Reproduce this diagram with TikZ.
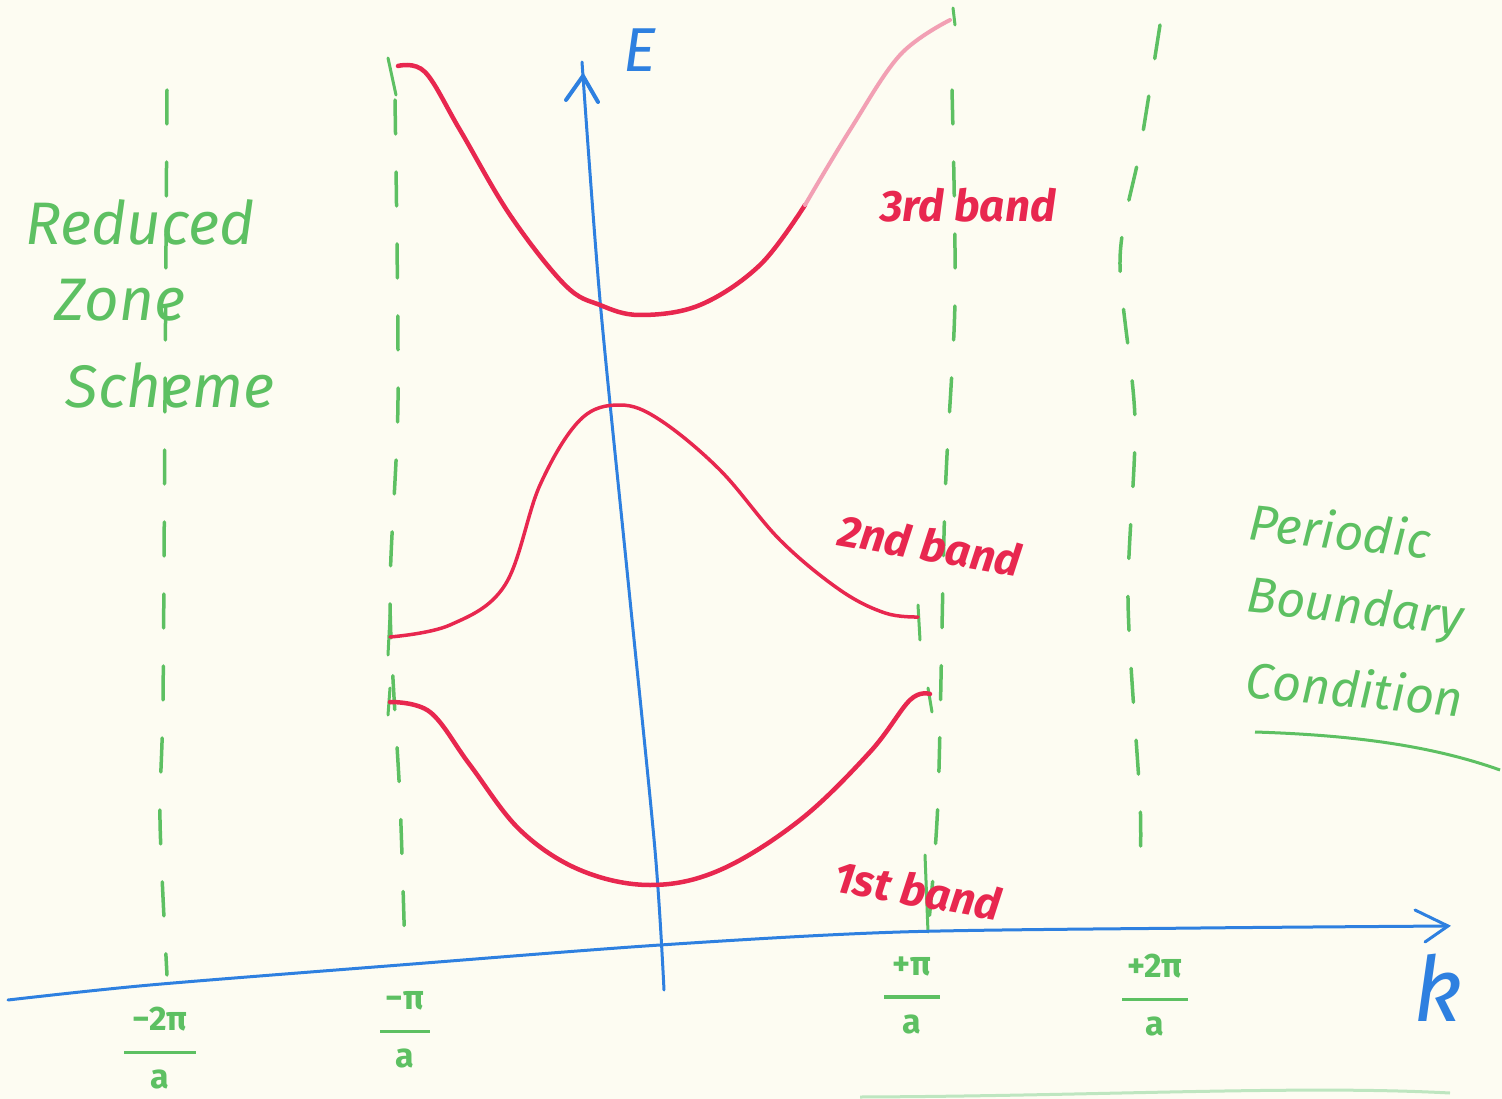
\documentclass[tikz,border=0pt]{standalone}
\usepackage{fontspec}
\setsansfont{Fira Sans}
\usetikzlibrary{arrows.meta}
\definecolor{paper}{HTML}{FDFCF2}
\definecolor{gr}{HTML}{5DC062}
\definecolor{rd}{HTML}{E8274F}
\definecolor{pk}{HTML}{F2A0B4}
\definecolor{bl}{HTML}{2E80E0}
\tikzset{
  zoneline/.style={gr, line width=3.5pt, line cap=round, dash pattern=on 34pt off 38pt},
  bandcurve/.style={rd, line width=4.5pt, line cap=round},
  axisline/.style={bl, line width=3pt, line cap=round},
  tickmark/.style={gr, line width=3pt, line cap=round},
  greentext/.style={gr, font=\sffamily\fontsize{60}{60}\selectfont\itshape, inner sep=0pt},
  pbctext/.style={gr, font=\sffamily\fontsize{50}{50}\selectfont\itshape, inner sep=0pt},
  redtext/.style={rd, font=\sffamily\fontsize{44}{44}\selectfont\itshape\bfseries, inner sep=0pt},
  fractext/.style={gr, font=\sffamily\fontsize{34}{29}\selectfont\bfseries, inner sep=0pt, align=center},
}
\newcommand{\fracbar}[1]{\rule[0.3ex]{#1}{3.5pt}}
\begin{document}
\begin{tikzpicture}[x=1pt,y=-1pt]
\useasboundingbox (0,0) rectangle (1502,1099);
\fill[paper] (0,0) rectangle (1502,1099);

% green zone boundaries (dashed)
\draw[zoneline] plot[smooth] coordinates {(167,90) (165,400) (163,700) (160,820) (167,975)};
\draw[zoneline] plot[smooth] coordinates {(395,100) (398,400) (390,600) (400,800) (405,955)};
\draw[zoneline] plot[smooth] coordinates {(952,90) (955,300) (945,500) (938,800) (928,930)};
\draw[zoneline] plot[smooth] coordinates {(1160,25) (1140,150) (1120,260) (1135,420) (1128,600) (1140,800) (1140,870)};

% end ticks
\draw[tickmark] (388,58) -- (396,95);
\draw[tickmark] (390,615) -- (388,655);
\draw[tickmark] (390,688) -- (388,715);
\draw[tickmark] (918,605) -- (920,640);
\draw[tickmark] (928,688) -- (932,712);
\draw[tickmark] (953,8) -- (955,25);
\draw[tickmark] (925,855) -- (928,932);

% E axis
\coordinate (Ebot) at (664,990);
\coordinate (Etop) at (582,62);
\draw[axisline] plot[smooth] coordinates {(Ebot) (655,850) (628,580) (600,300) (Etop)};
\draw[axisline, line width=4pt] (566,100) -- (583,76) -- (598,102);
\node[bl, font=\sffamily\fontsize{62}{62}\selectfont\itshape, inner sep=0pt] (Elab) at (640,50) {E};

% k axis
\coordinate (kleft) at (8,1000);
\coordinate (kright) at (1448,926);
\draw[axisline] plot[smooth] coordinates {(kleft) (150,985) (400,965) (660,945) (900,932) (1200,928) (kright)};
\draw[axisline] (1415,910) -- (kright) -- (1425,942);
\node[bl, font=\sffamily\fontsize{90}{90}\selectfont\itshape, inner sep=0pt] (klab) at (1438,988) {k};

% bands
\draw[bandcurve] plot[smooth, tension=0.6] coordinates {(398,66) (425,72) (460,130) (510,215) (565,285) (600,305) (640,315) (700,305) (760,265) (805,205)};
\draw[pk, line width=4pt, line cap=round] plot[smooth, tension=0.6] coordinates {(805,205) (850,130) (900,55) (950,20)};
\draw[bandcurve, line width=3.5pt] plot[smooth, tension=0.6] coordinates {(390,637) (450,625) (505,585) (540,485) (580,420) (620,405) (660,420) (720,470) (780,540) (840,590) (885,613) (918,617)};
\draw[bandcurve] plot[smooth, tension=0.6] coordinates {(390,702) (430,712) (470,765) (520,830) (580,870) (650,885) (720,870) (800,820) (870,752) (910,700) (930,694)};

% band labels
\node[redtext] (b3) at (968,205) {3rd band};
\node[redtext, rotate=-10] (b2) at (930,545) {2nd band};
\node[redtext, rotate=-10] (b1) at (918,890) {1st band};

% left and right texts
\node[greentext] (t1) at (140,222) {Reduced};
\node[greentext] (t2) at (120,300) {Zone};
\node[greentext] (t3) at (170,385) {Scheme};
\node[pbctext, rotate=-6] (p1) at (1340,530) {Periodic};
\node[pbctext, rotate=-6] (p2) at (1355,610) {Boundary};
\node[pbctext, rotate=-5] (p3) at (1355,688) {Condition};
\coordinate (u1) at (1255,732);
\coordinate (u2) at (1500,770);
\draw[gr, line width=3pt] (u1) .. controls (1350,735) and (1430,745) .. (u2);
\draw[gr!40, line width=3pt] (860,1097) .. controls (1100,1096) and (1300,1085) .. (1450,1093);

% k-axis labels
\node[fractext] (m2) at (160,1048) {−2π\\\fracbar{72pt}\\a};
\node[fractext] (m1) at (405,1030) {−π\\\fracbar{50pt}\\a};
\node[fractext] (p1l) at (912,995) {+π\\\fracbar{56pt}\\a};
\node[fractext] (p2l) at (1155,995) {+2π\\\fracbar{66pt}\\a};
\end{tikzpicture}
\end{document}
